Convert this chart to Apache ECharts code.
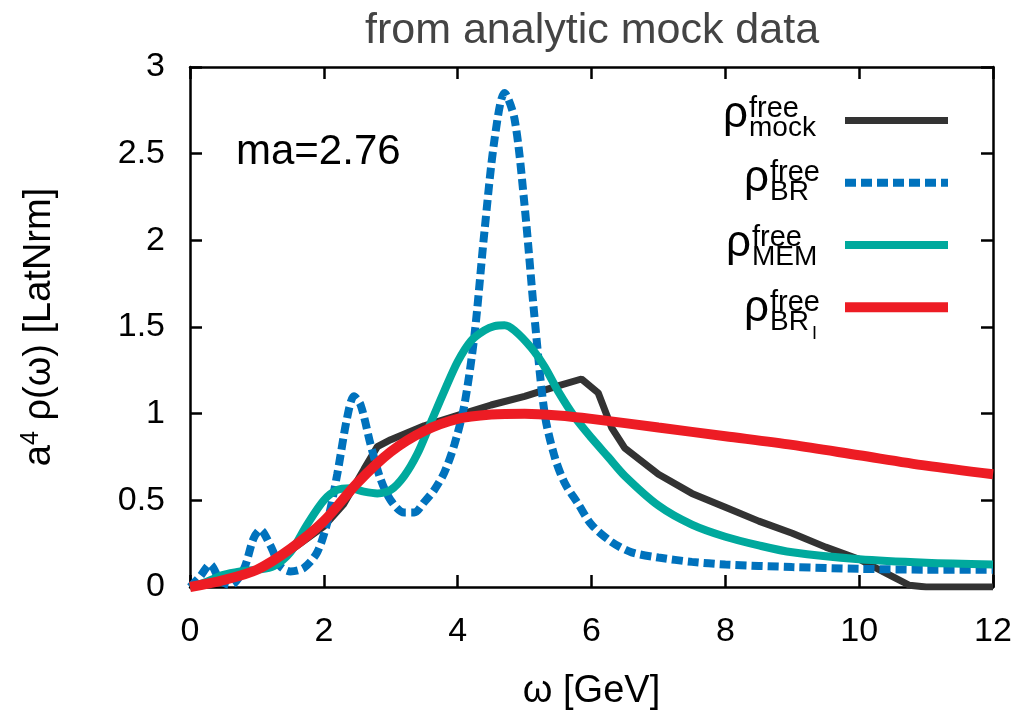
<!DOCTYPE html>
<html>
<head>
<meta charset="utf-8">
<script src="https://cdn.jsdelivr.net/npm/echarts@6/dist/echarts.min.js"></script>
<style>
  html, body { margin: 0; padding: 0; background: #fff; }
  #chart { width: 1021px; height: 716px; }
</style>
</head>
<body>
<div id="chart"></div>
<script>
// Spectral functions rho(omega) in lattice units, omega in GeV
const mockW   = [0, 0.5, 1.0, 1.5, 2.0, 2.3, 2.6, 2.8, 3.0, 3.5, 4.0, 4.5, 5.0, 5.5, 5.85, 6.1, 6.3, 6.5, 7.0, 7.5, 8.0, 8.5, 9.0, 9.5, 10.0, 10.5, 10.75, 11.0, 12.0];
const mockRho = [0, 0.04, 0.1, 0.21, 0.35, 0.48, 0.68, 0.81, 0.85, 0.93, 0.99, 1.05, 1.1, 1.16, 1.2, 1.12, 0.92, 0.8, 0.65, 0.54, 0.46, 0.38, 0.31, 0.23, 0.16, 0.06, 0.01, 0, 0];

const brW   = [0, 0.15, 0.3, 0.45, 0.6, 0.8, 0.95, 1.05, 1.2, 1.35, 1.5, 1.7, 1.9, 2.05, 2.2, 2.35, 2.45, 2.55, 2.7, 2.85, 3.0, 3.2, 3.35, 3.5, 3.65, 3.8, 3.95, 4.1, 4.25, 4.4, 4.55, 4.7, 4.85, 5.0, 5.15, 5.3, 5.45, 5.6, 5.8, 6.0, 6.3, 6.6, 7.0, 7.5, 8.0, 9.0, 10.0, 11.0, 12.0];
const brRho = [0, 0.06, 0.13, 0.04, 0.01, 0.1, 0.28, 0.33, 0.24, 0.12, 0.09, 0.11, 0.2, 0.37, 0.65, 0.98, 1.1, 1.05, 0.82, 0.62, 0.5, 0.43, 0.43, 0.49, 0.56, 0.66, 0.82, 1.05, 1.45, 2.05, 2.58, 2.85, 2.7, 2.2, 1.55, 1.0, 0.75, 0.6, 0.48, 0.36, 0.26, 0.2, 0.17, 0.145, 0.13, 0.115, 0.105, 0.1, 0.1];

const memW   = [0, 0.25, 0.5, 0.75, 1.0, 1.25, 1.5, 1.75, 2.0, 2.2, 2.4, 2.6, 2.8, 3.0, 3.2, 3.4, 3.6, 3.8, 4.0, 4.2, 4.4, 4.55, 4.7, 4.85, 5.1, 5.3, 5.5, 5.75, 6.0, 6.25, 6.5, 7.0, 7.5, 8.0, 8.5, 9.0, 10.0, 11.0, 12.0];
const memRho = [0, 0.03, 0.07, 0.09, 0.1, 0.12, 0.2, 0.36, 0.5, 0.56, 0.57, 0.55, 0.54, 0.56, 0.64, 0.77, 0.95, 1.13, 1.3, 1.42, 1.48, 1.505, 1.51, 1.48, 1.38, 1.27, 1.13, 0.98, 0.86, 0.75, 0.64, 0.47, 0.36, 0.29, 0.24, 0.2, 0.16, 0.14, 0.13];

const briW   = [0, 0.5, 1.0, 1.5, 2.0, 2.5, 3.0, 3.5, 4.0, 4.5, 5.0, 5.5, 6.0, 7.0, 8.0, 9.0, 10.0, 11.0, 12.0];
const briRho = [0, 0.04, 0.1, 0.22, 0.38, 0.6, 0.78, 0.9, 0.97, 0.995, 1.0, 0.99, 0.97, 0.92, 0.87, 0.82, 0.76, 0.7, 0.65];

const xTicks = [0, 2, 4, 6, 8, 10, 12];
const yTicks = [0, 0.5, 1, 1.5, 2, 2.5, 3];

const seriesNames = ['mock', 'BR', 'MEM', 'BRI'];
const seriesColors = ['#333333', '#0072bd', '#00a99d', '#ed1c24'];
const seriesWidths = [7, 8, 8, 10];
const seriesDash = ['solid', [11, 5], 'solid', 'solid'];

const zip = (xs, ys) => xs.map((x, i) => [x, ys[i]]);

const FONT = 'Liberation Sans, Arial, Helvetica, sans-serif';

const chart = echarts.init(document.getElementById('chart'));

const axisCommon = {
  type: 'value',
  axisLine: { show: true, onZero: false, lineStyle: { color: '#000', width: 2.5 } },
  axisTick: { show: true, inside: true, length: 12, lineStyle: { color: '#000', width: 2.5 } },
  splitLine: { show: false }
};

// legend labels: rho with stacked superscript "free" and a subscript
const legendRows = [
  { sub: 'mock', subX: 749, y: 117 },
  { sub: 'BR',   subX: 770, y: 181 },
  { sub: 'MEM',  subX: 752, y: 246 },
  { sub: 'BR',   subX: 770, y: 311, subsub: 'I' }
];
const legendText = [];
legendRows.forEach(r => {
  legendText.push({
    type: 'text', left: r.subX - 26, top: r.y - 24,
    style: { text: 'ρ', font: '44px ' + FONT, fill: '#000' }
  });
  legendText.push({
    type: 'text', left: r.subX, top: r.y - 23,
    style: { text: 'free', font: '29px ' + FONT, fill: '#000' }
  });
  legendText.push({
    type: 'text', left: r.subX, top: r.y - 3,
    style: { text: r.sub, font: '28px ' + FONT, fill: '#000' }
  });
  if (r.subsub) {
    legendText.push({
      type: 'text', left: r.subX + 42, top: r.y + 14,
      style: { text: r.subsub, font: '18px ' + FONT, fill: '#000' }
    });
  }
});

const option = {
  animation: false,
  backgroundColor: '#ffffff',
  textStyle: { fontFamily: FONT },
  title: {
    text: 'from analytic mock data',
    left: 360, top: 5,
    textStyle: { fontSize: 43, fontWeight: 'normal', color: '#444444', fontFamily: FONT }
  },
  grid: { left: 190, right: 28, top: 67, bottom: 128, containLabel: false },
  legend: {
    orient: 'vertical',
    right: 63, top: 110,
    itemWidth: 103, itemHeight: 14, itemGap: 51,
    formatter: () => '',
    textStyle: { fontSize: 14, lineHeight: 14 },
    data: seriesNames.map((n, i) => ({
      name: n,
      itemStyle: { opacity: 0 },
      lineStyle: { color: seriesColors[i], width: seriesWidths[i], type: seriesDash[i], cap: 'butt' }
    }))
  },
  xAxis: [
    Object.assign({}, axisCommon, {
      position: 'bottom', min: 0, max: 12, interval: 2,
      axisLabel: { fontSize: 34, color: '#000', margin: 28, fontFamily: FONT,
        formatter: v => (xTicks.includes(v) ? String(v) : '') },
      name: 'ω [GeV]', nameLocation: 'middle', nameGap: 86,
      nameTextStyle: { fontSize: 38, color: '#000', fontFamily: FONT }
    }),
    Object.assign({}, axisCommon, {
      position: 'top', min: 0, max: 12, interval: 2,
      axisLabel: { show: false }
    })
  ],
  yAxis: [
    Object.assign({}, axisCommon, {
      position: 'left', min: 0, max: 3, interval: 0.5,
      axisLabel: { fontSize: 34, color: '#000', margin: 25, fontFamily: FONT,
        formatter: v => (yTicks.includes(v) ? String(v) : '') },
      name: '{a|a}{s|4}{a| ρ(ω) [LatNrm]}', nameLocation: 'middle', nameGap: 130, nameRotate: 90,
      nameTextStyle: {
        color: '#000', fontFamily: FONT,
        rich: {
          a: { fontSize: 38, color: '#000', fontFamily: FONT },
          s: { fontSize: 25, color: '#000', fontFamily: FONT, verticalAlign: 'top', padding: [0, 0, 16, 0] }
        }
      }
    }),
    Object.assign({}, axisCommon, {
      position: 'right', min: 0, max: 3, interval: 0.5,
      axisLabel: { show: false }
    })
  ],
  graphic: [
    {
      type: 'text', left: 236, top: 131,
      style: { text: 'ma=2.76', font: '42px ' + FONT, fill: '#000' }
    }
  ].concat(legendText),
  series: [
    {
      name: 'mock', type: 'line', data: zip(mockW, mockRho),
      showSymbol: false, symbol: 'none', smooth: false,
      lineStyle: { color: seriesColors[0], width: seriesWidths[0] }, itemStyle: { color: seriesColors[0] }
    },
    {
      name: 'BR', type: 'line', data: zip(brW, brRho),
      showSymbol: false, symbol: 'none', smooth: 0.3,
      lineStyle: { color: seriesColors[1], width: seriesWidths[1], type: seriesDash[1], cap: 'butt' },
      itemStyle: { color: seriesColors[1] }
    },
    {
      name: 'MEM', type: 'line', data: zip(memW, memRho),
      showSymbol: false, symbol: 'none', smooth: 0.3,
      lineStyle: { color: seriesColors[2], width: seriesWidths[2] }, itemStyle: { color: seriesColors[2] }
    },
    {
      name: 'BRI', type: 'line', data: zip(briW, briRho),
      showSymbol: false, symbol: 'none', smooth: 0.3,
      lineStyle: { color: seriesColors[3], width: seriesWidths[3] }, itemStyle: { color: seriesColors[3] }
    }
  ]
};

chart.setOption(option);
</script>
</body>
</html>
